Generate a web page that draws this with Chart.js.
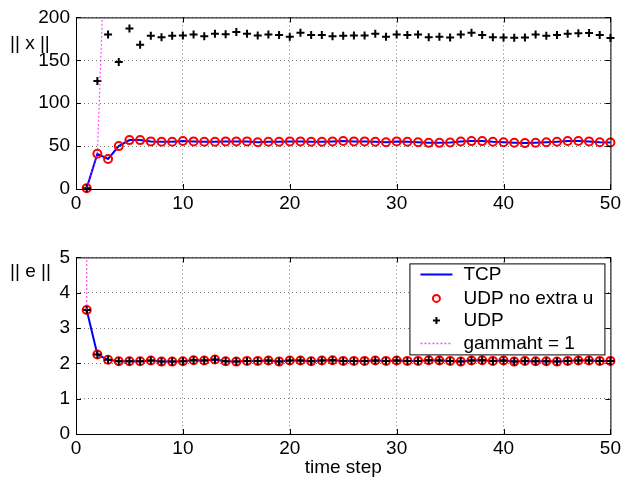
<!DOCTYPE html>
<html lang="en">
<head>
  <meta charset="UTF-8">
  <title>TCP vs UDP</title>
  <script src="https://cdn.jsdelivr.net/npm/chart.js"></script>
  <style>
    body { margin: 0; background: #fff; }
    #wrap { position: relative; width: 624px; height: 480px; }
    canvas { position: absolute; left: 0; }
  </style>
</head>
<body>
  <div id="wrap">
    <canvas id="topChart" width="624" height="215" style="top:0"></canvas>
    <canvas id="bottomChart" width="624" height="240" style="top:240px"></canvas>
  </div>

  <script>
    // time steps
    const steps = [1, 2, 3, 4, 5, 6, 7, 8, 9, 10, 11, 12, 13, 14, 15, 16, 17, 18, 19, 20,
      21, 22, 23, 24, 25, 26, 27, 28, 29, 30, 31, 32, 33, 34, 35, 36, 37, 38, 39, 40,
      41, 42, 43, 44, 45, 46, 47, 48, 49, 50];
    const gammaSteps = [1, 2, 3, 4];

    // || x ||
    const tcpX = [1, 41, 35, 50, 57, 57, 55.5, 55, 55, 56, 55.5, 55, 55, 55.5, 55.5, 55.5, 54.5, 55, 55, 55.5,
      55.5, 55, 55, 55.5, 56, 55.5, 55.5, 55, 54.5, 55.5, 55, 54.5, 53.8, 53.8, 54.3, 55.3, 55.8, 55.8, 55, 54.5,
      54, 53.5, 54, 54.5, 55, 56, 56, 55.5, 54.5, 54.3];
    const udpNoExtraX = [1, 41, 35, 50, 57, 57, 55.5, 55, 55, 56, 55.5, 55, 55, 55.5, 55.5, 55.5, 54.5, 55, 55, 55.5,
      55.5, 55, 55, 55.5, 56, 55.5, 55.5, 55, 54.5, 55.5, 55, 54.5, 53.8, 53.8, 54.3, 55.3, 55.8, 55.8, 55, 54.5,
      54, 53.5, 54, 54.5, 55, 56, 56, 55.5, 54.5, 54.3];
    const udpX = [1, 126, 180, 148, 187, 168, 178.5, 177, 178.5, 179, 180, 178, 181, 180.5, 183, 181, 179, 180, 179.5, 177.5,
      182, 179.5, 179.5, 178, 178.5, 179, 179, 181, 177.5, 180, 179.5, 180, 177, 177.5, 176.5, 180, 182, 179.5, 177, 176.5,
      176.2, 176.5, 180, 178.5, 179.5, 181, 181.5, 181.8, 179.5, 176];
    const gammaX = [1, 41, 385, 3600];

    // || e ||
    const tcpE = [3.51, 2.25, 2.10, 2.06, 2.06, 2.06, 2.08, 2.05, 2.05, 2.06, 2.09, 2.08, 2.11, 2.06, 2.05, 2.07, 2.07, 2.08, 2.05, 2.08,
      2.08, 2.06, 2.08, 2.09, 2.07, 2.07, 2.07, 2.08, 2.07, 2.08, 2.07, 2.07, 2.09, 2.08, 2.07, 2.05, 2.08, 2.09, 2.07, 2.08,
      2.05, 2.07, 2.06, 2.06, 2.05, 2.07, 2.08, 2.08, 2.07, 2.07];
    const udpNoExtraE = [3.51, 2.25, 2.10, 2.06, 2.06, 2.06, 2.08, 2.05, 2.05, 2.06, 2.09, 2.08, 2.11, 2.06, 2.05, 2.07, 2.07, 2.08, 2.05, 2.08,
      2.08, 2.06, 2.08, 2.09, 2.07, 2.07, 2.07, 2.08, 2.07, 2.08, 2.07, 2.07, 2.09, 2.08, 2.07, 2.05, 2.08, 2.09, 2.07, 2.08,
      2.05, 2.07, 2.06, 2.06, 2.05, 2.07, 2.08, 2.08, 2.07, 2.07];
    const udpE = [3.51, 2.25, 2.10, 2.06, 2.06, 2.06, 2.08, 2.05, 2.05, 2.06, 2.09, 2.08, 2.11, 2.06, 2.05, 2.07, 2.07, 2.08, 2.05, 2.08,
      2.08, 2.06, 2.08, 2.09, 2.07, 2.07, 2.07, 2.08, 2.07, 2.08, 2.07, 2.07, 2.09, 2.08, 2.07, 2.05, 2.08, 2.09, 2.07, 2.08,
      2.05, 2.07, 2.06, 2.06, 2.05, 2.07, 2.08, 2.08, 2.07, 2.07];
    const gammaE = [3.51, 250, 3000, 40000];

    const seriesNames = ['TCP', 'UDP no extra u', 'UDP', 'gammaht = 1'];
    const FONT = 'Liberation Sans, Arial, Helvetica, sans-serif';
    const FS = 19;

    const pts = (xs, ys) => xs.map((x, i) => ({ x: x, y: ys[i] }));

    // matlab style box, inward ticks, horizontal y label, boxed legend
    const matlabBox = {
      id: 'matlabBox',
      afterDraw(chart, args, opts) {
        const { ctx, chartArea: a, scales } = chart;
        ctx.save();
        ctx.strokeStyle = '#000';
        ctx.lineWidth = 1;
        ctx.strokeRect(a.left + 0.5, a.top + 0.5, a.right - a.left, a.bottom - a.top);
        const tl = 5;
        ctx.beginPath();
        scales.x.ticks.forEach(t => {
          const px = Math.round(scales.x.getPixelForValue(t.value)) + 0.5;
          ctx.moveTo(px, a.bottom); ctx.lineTo(px, a.bottom - tl);
          ctx.moveTo(px, a.top); ctx.lineTo(px, a.top + tl);
        });
        scales.y.ticks.forEach(t => {
          const py = Math.round(scales.y.getPixelForValue(t.value)) + 0.5;
          ctx.moveTo(a.left, py); ctx.lineTo(a.left + tl, py);
          ctx.moveTo(a.right, py); ctx.lineTo(a.right - tl, py);
        });
        ctx.stroke();

        ctx.fillStyle = '#000';
        ctx.font = FS + 'px ' + FONT;
        ctx.textAlign = 'left';
        ctx.textBaseline = 'middle';
        ctx.fillText(opts.ylabel, 10, opts.ylabelY);

        if (opts.legend) {
          const w = 195, h = 91;
          const x0 = a.right - 6 - w, y0 = a.top + 6;
          ctx.fillStyle = '#fff';
          ctx.fillRect(x0, y0, w, h);
          ctx.strokeStyle = '#000';
          ctx.lineWidth = 1;
          ctx.strokeRect(x0 + 0.5, y0 + 0.5, w, h);
          const mx = x0 + 27, tx = x0 + 54;
          const rows = [11, 35, 57, 80];
          const ds = chart.data.datasets;
          rows.forEach((dy, i) => {
            ctx.fillStyle = '#000';
            ctx.fillText(ds[i].label, tx, y0 + dy);
          });
          // TCP line
          ctx.strokeStyle = ds[0].borderColor; ctx.lineWidth = 2;
          ctx.beginPath(); ctx.moveTo(mx - 16, y0 + rows[0]); ctx.lineTo(mx + 16, y0 + rows[0]); ctx.stroke();
          // circle
          ctx.strokeStyle = ds[1].pointBorderColor; ctx.lineWidth = 2;
          ctx.beginPath(); ctx.arc(mx, y0 + rows[1], 3.5, 0, Math.PI * 2); ctx.stroke();
          // plus
          ctx.strokeStyle = '#000'; ctx.lineWidth = 2;
          ctx.beginPath();
          ctx.moveTo(mx - 3.5, y0 + rows[2]); ctx.lineTo(mx + 3.5, y0 + rows[2]);
          ctx.moveTo(mx, y0 + rows[2] - 3.5); ctx.lineTo(mx, y0 + rows[2] + 3.5);
          ctx.stroke();
          // dotted
          ctx.strokeStyle = ds[3].borderColor; ctx.lineWidth = 1.5;
          ctx.setLineDash(ds[3].borderDash);
          ctx.beginPath(); ctx.moveTo(mx - 16, y0 + rows[3]); ctx.lineTo(mx + 16, y0 + rows[3]); ctx.stroke();
          ctx.setLineDash([]);
        }
        ctx.restore();
      }
    };

    function makeDatasets(tcp, noExtra, udp, gamma) {
      return [
        {
          label: seriesNames[0], data: pts(steps, tcp), order: 4,
          borderColor: '#0000ff', borderWidth: 2, pointRadius: 0, tension: 0, clip: false
        },
        {
          label: seriesNames[1], data: pts(steps, noExtra), order: 3, showLine: false,
          pointStyle: 'circle', pointRadius: 4, pointBorderWidth: 2,
          pointBorderColor: '#ff0000', pointBackgroundColor: 'rgba(0,0,0,0)', clip: false
        },
        {
          label: seriesNames[2], data: pts(steps, udp), order: 2, showLine: false,
          pointStyle: 'cross', pointRadius: 4, pointBorderWidth: 2,
          pointBorderColor: '#000000', clip: false
        },
        {
          label: seriesNames[3], data: pts(gammaSteps, gamma), order: 1,
          borderColor: 'rgba(255,0,255,0.7)', borderWidth: 1.2, borderDash: [2, 2],
          pointRadius: 0, tension: 0, clip: 0
        }
      ];
    }

    function makeOptions(ymax, ystep, ylabel, ylabelY, axisH, showTitle, legend) {
      return {
        responsive: false,
        animation: false,
        devicePixelRatio: 1,
        layout: { padding: { top: 12, right: 13, left: 0, bottom: 0 } },
        plugins: {
          legend: { display: false },
          tooltip: { enabled: false },
          matlabBox: { ylabel: ylabel, ylabelY: ylabelY, legend: legend }
        },
        scales: {
          x: {
            type: 'linear', min: 0, max: 50,
            ticks: { stepSize: 10, color: '#000', font: { family: FONT, size: FS }, padding: 3, maxRotation: 0 },
            grid: { color: '#777', drawTicks: false },
            border: { display: false, dash: [1, 3] },
            title: { display: showTitle, text: 'time step', color: '#000', font: { family: FONT, size: FS }, padding: { top: 0, bottom: 1 } },
            afterFit: s => { s.height = axisH; }
          },
          y: {
            min: 0, max: ymax,
            ticks: { stepSize: ystep, color: '#000', font: { family: FONT, size: FS }, padding: 6 },
            grid: { color: '#777', drawTicks: false },
            border: { display: false, dash: [1, 3] },
            afterFit: s => { s.width = 76; }
          }
        }
      };
    }

    new Chart(document.getElementById('topChart'), {
      type: 'line',
      data: { datasets: makeDatasets(tcpX, udpNoExtraX, udpX, gammaX) },
      options: makeOptions(200, 50, '|| x ||', 44, 26, false, false),
      plugins: [matlabBox]
    });

    const bottomOpts = makeOptions(5, 1, '|| e ||', 32, 46, true, true);
    bottomOpts.layout.padding.top = 16;
    new Chart(document.getElementById('bottomChart'), {
      type: 'line',
      data: { datasets: makeDatasets(tcpE, udpNoExtraE, udpE, gammaE) },
      options: bottomOpts,
      plugins: [matlabBox]
    });
  </script>
</body>
</html>
